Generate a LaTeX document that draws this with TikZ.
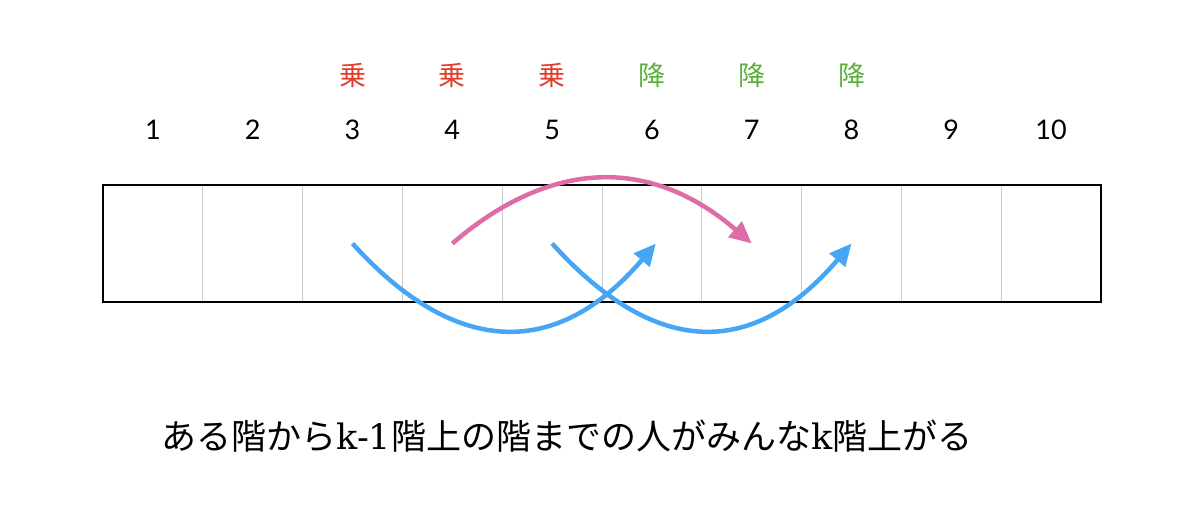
\documentclass[tikz,border=0pt]{standalone}
\usepackage{fontspec}
\setmainfont{Lato}
\newfontfamily\jpfont{Noto Sans CJK JP}
\newfontfamily\latinfont{DejaVu Serif}
\usetikzlibrary{arrows.meta}
\definecolor{boardRed}{HTML}{E23C2A}
\definecolor{alightGreen}{HTML}{5AAF3C}
\definecolor{jumpBlue}{HTML}{46A5F5}
\definecolor{ridePink}{HTML}{DE6CA6}

\begin{document}
\begin{tikzpicture}[x=1pt,y=-1pt]
	 \tikzstyle{cell}=[draw=black!20,line width=0.8pt,minimum width=99.8pt,minimum height=117pt,inner sep=0pt,outer sep=0pt]
	 \tikzstyle{floor}=[font=\fontsize{27}{32}\selectfont]
	 \tikzstyle{board}=[font=\jpfont\fontsize{27}{32}\selectfont,text=boardRed]
	 \tikzstyle{alight}=[board,text=alightGreen]
	 \tikzstyle{jump}=[draw,line width=4.5pt,-{Triangle[length=22pt,width=20pt]},jumpBlue]
	 \tikzstyle{ride}=[jump,ridePink]
	 \tikzstyle{caption}=[font=\jpfont\fontsize{35}{42}\selectfont]

	 \useasboundingbox (0,0) rectangle (1200,524);

	 \foreach \i in {1,...,10} {
		\node[cell] (c\i) at (53.1+99.8*\i,243.5) {};
		\node[floor] (n\i) at (53.1+99.8*\i,130) {\i};
	 }
	 \foreach \i in {3,4,5}
		\node[board] (b\i) at (53.1+99.8*\i,75) {乗};
	 \foreach \i in {6,7,8}
		\node[alight] (a\i) at (53.1+99.8*\i,75) {降};

	\draw[line width=2.5pt] (c1.north west) rectangle (c10.south east);

	\draw[jump] (c3.center) .. controls +(104,115) and +(-98,115) .. ([xshift=4pt]c6.center);
	\draw[jump] (c5.center) .. controls +(104,115) and +(-98,115) .. (c8.center);
	\draw[ride] (c4.center) .. controls +(100,-86) and +(-100,-86) .. (c7.center);

	\node[caption] (note) at (567,436) {ある階から{\latinfont k-1}階上の階までの人がみんな{\latinfont k}階上がる};
\end{tikzpicture}
\end{document}
